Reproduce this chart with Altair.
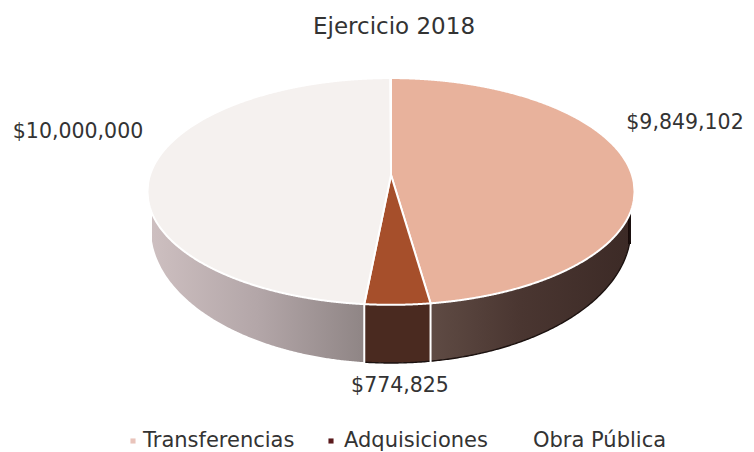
import numpy as np
import pandas as pd
import altair as alt

# ---- chart values ----
title_text = "Ejercicio 2018"
categories = ["Transferencias", "Adquisiciones", "Obra Pública"]
values = [9849102, 774825, 10000000]
value_labels = ["$9,849,102", "$774,825", "$10,000,000"]

# ---- styling ----
top_colors = ["#e8b29c", "#a64f2b", "#f5f1ef"]
legend_colors = ["#e9c4bb", "#5a1a1c", "#ffffff"]
FONT = "DejaVu Sans"
TEXT = "#333333"

# ---- pie geometry (perspective disc, in page pixels) ----
CX, CY, R, H, K = 391.0, 175.0, 241.0, 111.0, 0.145
BX, BY, BRX, BRY = 391.0, 229.0, 240.0, 134.0


def rim(deg):
    t = np.radians(deg)
    u, v = np.sin(t), np.cos(t)
    s = 1 / (1 + K * v)
    return CX + R * u * s, CY - H * v * s


def bottom(x):
    return BY + BRY * np.sqrt(np.clip(1 - ((x - BX) / BRX) ** 2, 0, 1))


shares = np.array(values) / sum(values) * 360
ends = np.cumsum(shares)
starts = ends - shares


def slice_outline(a0, a1):
    """Upper and lower outline of one top-face slice at every x."""
    px, py = rim(np.linspace(a0, a1, 240))
    poly_x = np.concatenate([[CX], px, [CX]])
    poly_y = np.concatenate([[CY], py, [CY]])
    grid = np.unique(np.concatenate([np.linspace(poly_x.min(), poly_x.max(), 300), [CX]]))
    rows = []
    for gx in grid:
        ys = []
        for i in range(len(poly_x) - 1):
            x0, x1, y0, y1 = poly_x[i], poly_x[i + 1], poly_y[i], poly_y[i + 1]
            if min(x0, x1) <= gx <= max(x0, x1):
                if x0 == x1:
                    ys += [y0, y1]
                else:
                    ys.append(y0 + (gx - x0) / (x1 - x0) * (y1 - y0))
        if ys:
            rows.append(dict(x=float(gx), y=float(min(ys)), y2=float(max(ys))))
    return pd.DataFrame(rows)


# side walls
fx, fy = rim(np.linspace(90, 270, 721))
order = np.argsort(fx)
fx, fy = fx[order], fy[order]
edge_r = float(rim(ends[0])[0])
edge_l = float(rim(ends[1])[0])


def wall(x0, x1):
    xs = np.linspace(x0, x1, 160)
    return pd.DataFrame(dict(x=xs, y=np.interp(xs, fx, fy), y2=bottom(xs)))


XS = alt.Scale(domain=[8, 746], range=[0, 738])
YS = alt.Scale(domain=[8, 452], range=[0, 444])
X = alt.X("x:Q", scale=XS, axis=None)
Y = alt.Y("y:Q", scale=YS, axis=None, stack=None)
Y2 = alt.Y2("y2:Q")


def grad(stops):
    return alt.Gradient(
        gradient="linear", x1=0, x2=1, y1=0, y2=0,
        stops=[alt.GradientStop(offset=o, color=c) for o, c in stops],
    )


wall_l = alt.Chart(wall(152, edge_l)).mark_area(
    color=grad([(0, "#cdbfc0"), (0.5, "#b3a6a8"), (1, "#8f8585")])
).encode(x=X, y=Y, y2=Y2)
wall_m = alt.Chart(wall(edge_l, edge_r)).mark_area(color="#4a2a20").encode(x=X, y=Y, y2=Y2)
wall_r = alt.Chart(wall(edge_r, 630)).mark_area(
    color=grad([(0, "#5f4b44"), (0.45, "#4a3631"), (1, "#3c2a26")])
).encode(x=X, y=Y, y2=Y2)

out_df = wall(edge_l, 630)
outline = alt.Chart(out_df).mark_line(color="#1c1210", strokeWidth=1.4).encode(
    x=X, y=alt.Y("y2:Q", scale=YS, axis=None)
)
right_edge = alt.Chart(wall(629.5, 630)).mark_rule(color="#1c1210", strokeWidth=1.2).encode(
    x=X, y=Y, y2=Y2
)

sep_df = pd.DataFrame(dict(
    x=[edge_l, edge_r],
    y=[float(np.interp(edge_l, fx, fy)), float(np.interp(edge_r, fx, fy))],
    y2=[float(bottom(edge_l)) + 1, float(bottom(edge_r)) + 1],
))
seps = alt.Chart(sep_df).mark_rule(color="#ffffff", strokeWidth=2).encode(x=X, y=Y, y2=Y2)

tops = [
    alt.Chart(slice_outline(a0, a1)).mark_area(
        color=col, stroke="#ffffff", strokeWidth=2
    ).encode(x=X, y=Y, y2=Y2)
    for a0, a1, col in zip(starts, ends, top_colors)
]

label_df = pd.DataFrame(dict(text=value_labels, x=[685, 400, 78], y=[123, 386, 132]))
labels = alt.Chart(label_df).mark_text(font=FONT, fontSize=20.5, color=TEXT).encode(x=X, y=Y, text="text:N")

title_df = pd.DataFrame(dict(text=[title_text], x=[394], y=[27]))
title = alt.Chart(title_df).mark_text(font=FONT, fontSize=23, color=TEXT).encode(x=X, y=Y, text="text:N")

leg_df = pd.DataFrame(dict(cat=categories, mx=[133, 331, 520], tx=[143, 344, 533], y=[441, 441, 441], c=legend_colors))
leg_marks = alt.Chart(leg_df).mark_square(size=26, opacity=1).encode(
    x=alt.X("mx:Q", scale=XS, axis=None), y=Y, fill=alt.Fill("c:N", scale=None), stroke=alt.value(None)
)
leg_text = alt.Chart(leg_df).mark_text(font=FONT, fontSize=21, color=TEXT, align="left").encode(
    x=alt.X("tx:Q", scale=XS, axis=None), y=Y, text="cat:N"
)

chart = alt.layer(
    wall_l, wall_m, wall_r, outline, right_edge, seps, *tops, labels, title, leg_marks, leg_text
).properties(
    width=738, height=444, padding=0, autosize=alt.AutoSizeParams(type="none"), background="#ffffff"
).configure_view(stroke=None)

chart.save("out.html", embed_options={"renderer": "svg", "actions": False})
